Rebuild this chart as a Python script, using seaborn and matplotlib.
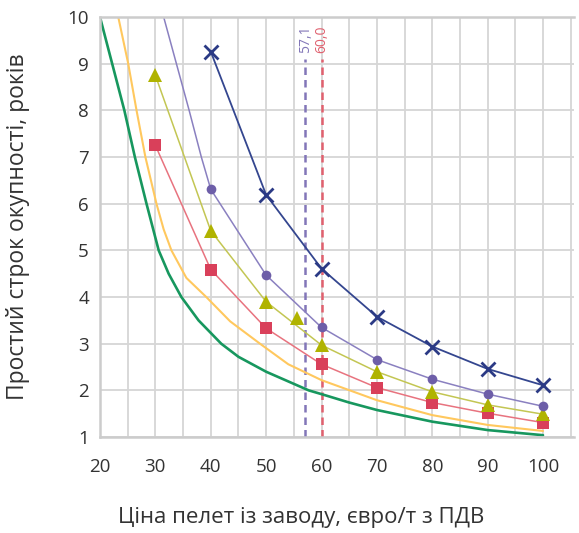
import matplotlib
matplotlib.use("Agg")
import matplotlib.pyplot as plt
import seaborn as sns

# values (x = pellet price, y = payback years)
green_x = [20, 22.2, 24.4, 26.3, 28.4, 29.5, 30.6, 32.4, 34.7, 37.8, 41.9, 45, 50, 57.7, 60, 65, 70, 80, 90, 100]
green_y = [10, 9, 8, 7, 6, 5.5, 5, 4.5, 4, 3.5, 3, 2.72, 2.4, 2.0, 1.92, 1.74, 1.58, 1.33, 1.15, 1.04]

yellow_x = [23.3, 25.1, 26.6, 28.2, 30.2, 31.5, 32.9, 35.6, 39.2, 43.5, 48.9, 54, 60, 70, 80, 90, 100]
yellow_y = [10, 9, 8, 7, 6, 5.45, 5, 4.41, 4, 3.48, 3, 2.56, 2.22, 1.79, 1.47, 1.26, 1.13]

red_x = [30, 40, 50, 60, 70, 80, 90, 100]
red_y = [7.25, 4.59, 3.33, 2.56, 2.06, 1.74, 1.51, 1.31]

olive_x = [30, 40, 50, 60, 70, 80, 90, 100]
olive_y = [8.75, 5.42, 3.9, 2.97, 2.40, 1.97, 1.69, 1.49]
olive_extra_x = [55.5]
olive_extra_y = [3.56]

purple_line_x = [31.5, 33.8, 36.1, 38.3, 40, 50, 60, 70, 80, 90, 100]
purple_line_y = [10, 9, 8, 7, 6.31, 4.47, 3.35, 2.66, 2.24, 1.92, 1.66]
purple_x = [40, 50, 60, 70, 80, 90, 100]
purple_y = [6.31, 4.47, 3.35, 2.66, 2.24, 1.92, 1.66]

blue_x = [40, 50, 60, 70, 80, 90, 100]
blue_y = [9.26, 6.19, 4.61, 3.58, 2.94, 2.46, 2.11]

vlines = [57.1, 60.0]
vline_labels = ["57,1", "60,0"]
vline_colors = ["#8276b8", "#e0606e"]

x_ticks = [20, 30, 40, 50, 60, 70, 80, 90, 100]
y_ticks = [1, 2, 3, 4, 5, 6, 7, 8, 9, 10]

sns.set_style("white")
plt.rcParams["font.family"] = ["Open Sans", "DejaVu Sans"]

fig = plt.figure(figsize=(5.79, 5.33), dpi=100)
ax = fig.add_axes([0.1727, 0.18, 0.8187, 0.788])

# dashed break-even lines first so curves sit on top
for xv, lab, col in zip(vlines, vline_labels, vline_colors):
    sns.lineplot(x=[xv, xv], y=[1, 9.1], color=col, lw=1.8, ax=ax,
                 estimator=None, sort=False, linestyle=(0, (3, 2)))
    ax.text(xv, 9.22, lab, rotation=90, ha="center", va="bottom",
            color=col, fontsize=10)

sns.lineplot(x=green_x, y=green_y, color="#17975e", lw=1.9, ax=ax, estimator=None, sort=False)
sns.lineplot(x=yellow_x, y=yellow_y, color="#ffc85e", lw=1.5, ax=ax, estimator=None, sort=False)
sns.lineplot(x=red_x, y=red_y, color="#e8737f", lw=1.1, ax=ax, estimator=None, sort=False)
sns.lineplot(x=olive_x, y=olive_y, color="#c3c653", lw=1.1, ax=ax, estimator=None, sort=False)
sns.lineplot(x=purple_line_x, y=purple_line_y, color="#8a80c0", lw=1.1, ax=ax, estimator=None, sort=False)
sns.lineplot(x=blue_x, y=blue_y, color="#34468f", lw=1.3, ax=ax, estimator=None, sort=False)

# markers
sns.lineplot(x=red_x, y=red_y, color="#d9405a", marker="s", markersize=8, mew=0,
             linestyle="none", ax=ax, estimator=None, sort=False)
sns.lineplot(x=olive_x + olive_extra_x, y=olive_y + olive_extra_y, color="#b0b300",
             marker="^", markersize=10, mew=0, linestyle="none", ax=ax, estimator=None, sort=False)
sns.lineplot(x=purple_x, y=purple_y, color="#6d5ea8", marker="o", markersize=7, mew=0,
             linestyle="none", ax=ax, estimator=None, sort=False)
sns.lineplot(x=blue_x, y=blue_y, color="#2b3a85", marker="x", markersize=10, mew=2,
             markeredgecolor="#2b3a85", linestyle="none", ax=ax, estimator=None, sort=False)

ax.set_xlim(20, 105.6)
ax.set_ylim(1, 10)
ax.set_xticks(x_ticks)
ax.set_xticks([25, 35, 45, 55, 65, 75, 85, 95, 105], minor=True)
ax.set_yticks(y_ticks)
ax.grid(True, which="both", color="#d6d6d6", lw=1.3)
ax.set_axisbelow(True)
ax.tick_params(length=0, labelsize=13.5, colors="#333333")
ax.tick_params(axis="x", pad=15)
ax.tick_params(axis="y", pad=8)

for side in ["left", "bottom", "top"]:
    ax.spines[side].set_color("#cccccc")
    ax.spines[side].set_linewidth(1.8)
ax.spines["right"].set_visible(False)

ax.set_xlabel("Ціна пелет із заводу, євро/т з ПДВ", fontsize=16, color="#333333")
ax.set_ylabel("Простий строк окупності, років", fontsize=16.5, color="#333333")
ax.xaxis.set_label_coords(0.424, -0.167)
ax.yaxis.set_label_coords(-0.148, 0.5)

fig.savefig("out.png", dpi=100)
